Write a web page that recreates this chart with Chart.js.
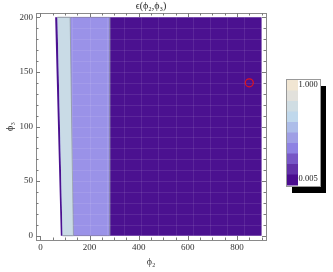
<!DOCTYPE html>
<html>
<head>
<meta charset="utf-8">
<script src="https://cdn.jsdelivr.net/npm/chart.js@4/dist/chart.umd.min.js"></script>
<style>
  html, body { margin: 0; padding: 0; background: #ffffff; }
  #wrap { width: 333px; height: 272px; position: relative; }
</style>
</head>
<body>
<div id="wrap"><canvas id="c" width="333" height="272"></canvas></div>
<script>
// ---- data ----
const chartTitle = 'ϵ(ϕ₂,ϕ₃)';
const xLabel = 'ϕ₂';
const yLabel = 'ϕ₃';

// contour regions (phi2, phi3 vertices)
const darkRegionX = [60, 900, 900, 83];
const darkRegionY = [200, 200, 0, 0];
const lavenderRegionX = [69, 282, 282, 90];
const lavenderRegionY = [200, 200, 0, 0];
const lightBlueRegionX = [69, 121, 134, 90];
const lightBlueRegionY = [200, 200, 0, 0];

// highlighted point
const markerX = [850];
const markerY = [140];

// axes
const xTicks = [0, 200, 400, 600, 800];
const yTicks = [0, 50, 100, 150, 200];
const xMinorTicks = [50, 100, 150, 250, 300, 350, 450, 500, 550, 650, 700, 750, 850, 900];
const yMinorTicks = [10, 20, 30, 40, 60, 70, 80, 90, 110, 120, 130, 140, 160, 170, 180, 190];

// mesh lines inside the contour region
const meshX = [130, 200, 270, 340, 410, 480, 550, 620, 690, 760, 830];
const meshY = [10, 20, 30, 40, 50, 60, 70, 80, 90, 100, 110, 120, 130, 140, 150, 160, 170, 180, 190];

// colour bar (top to bottom)
const colorbarColors = ['#f1e6d3', '#e2e1dc', '#d0dde3', '#c0d8ec', '#adbde9',
                        '#9f9fe5', '#8e82e3', '#7757c6', '#6131a8', '#4a0c8f'];
const colorbarLabels = ['1.000', '0.005'];

const pts = (xs, ys) => xs.map((x, i) => ({ x: x, y: ys[i] }));
const SERIF = '"Liberation Serif", "DejaVu Serif", serif';

const polyDataset = (xs, ys, color, border, order) => ({
  data: pts(xs, ys),
  showLine: true,
  fill: 'shape',
  backgroundColor: color,
  borderColor: border,
  borderWidth: border === 'transparent' ? 0 : 0.8,
  pointRadius: 0,
  tension: 0,
  order: order
});

const decorPlugin = {
  id: 'decor',
  afterDraw(chart) {
    const ctx = chart.ctx;
    const xs = chart.scales.x, ys = chart.scales.y;
    const a = chart.chartArea;
    ctx.save();
    // frame
    ctx.strokeStyle = '#8a8a8a';
    ctx.lineWidth = 1;
    ctx.strokeRect(Math.round(a.left) + 0.5, Math.round(a.top) + 0.5,
                   Math.round(a.right - a.left), Math.round(a.bottom - a.top));
    // ticks
    const tick = (x1, y1, x2, y2) => { ctx.beginPath(); ctx.moveTo(x1, y1); ctx.lineTo(x2, y2); ctx.stroke(); };
    ctx.strokeStyle = '#7a7a7a';
    xTicks.forEach(v => { const p = Math.round(xs.getPixelForValue(v)) + 0.5;
      tick(p, a.bottom, p, a.bottom - 4); tick(p, a.top, p, a.top + 4); });
    xMinorTicks.forEach(v => { const p = Math.round(xs.getPixelForValue(v)) + 0.5;
      tick(p, a.bottom, p, a.bottom - 2.5); tick(p, a.top, p, a.top + 2.5); });
    yTicks.forEach(v => { const p = Math.round(ys.getPixelForValue(v)) + 0.5;
      tick(a.left, p, a.left + 4, p); tick(a.right, p, a.right - 4, p); });
    yMinorTicks.forEach(v => { const p = Math.round(ys.getPixelForValue(v)) + 0.5;
      tick(a.left, p, a.left + 2.5, p); tick(a.right, p, a.right - 2.5, p); });

    // title
    ctx.fillStyle = '#222';
    ctx.font = '10px ' + SERIF;
    ctx.textAlign = 'center';
    ctx.textBaseline = 'middle';
    ctx.fillText(chartTitle, (a.left + a.right) / 2, 6);

    // colour bar
    const bx = 286, by = 79, bw = 34, bh = 107;
    ctx.fillStyle = '#000';
    ctx.fillRect(bx + 6, by + 7, bw, bh);
    ctx.fillStyle = '#fff';
    ctx.fillRect(bx, by, bw, bh);
    const sw = 11, band = (bh - 2) / colorbarColors.length;
    colorbarColors.forEach((c, i) => {
      ctx.fillStyle = c;
      ctx.fillRect(bx + 1, by + 1 + i * band, sw, band + 0.5);
    });
    ctx.strokeStyle = '#999';
    ctx.lineWidth = 1;
    ctx.strokeRect(bx + 0.5, by + 0.5, bw, bh);
    ctx.fillStyle = '#222';
    ctx.font = '8.5px ' + SERIF;
    ctx.textAlign = 'left';
    ctx.fillText(colorbarLabels[0], bx + sw + 1.5, by + 6);
    ctx.fillText(colorbarLabels[1], bx + sw + 1.5, by + bh - 7);
    ctx.restore();
  },
  beforeDatasetDraw(chart, args) {
    if (args.index !== 3) return;
    // mesh lines drawn just before the marker dataset
    const ctx = chart.ctx;
    const xs = chart.scales.x, ys = chart.scales.y;
    ctx.save();
    ctx.strokeStyle = 'rgba(255,255,255,0.09)';
    ctx.lineWidth = 1;
    const x0 = xs.getPixelForValue(130), x1 = xs.getPixelForValue(900);
    const y0 = ys.getPixelForValue(200), y1 = ys.getPixelForValue(0);
    meshY.forEach(v => { const p = Math.round(ys.getPixelForValue(v)) + 0.5;
      ctx.beginPath(); ctx.moveTo(x0, p); ctx.lineTo(x1, p); ctx.stroke(); });
    meshX.forEach(v => { const p = Math.round(xs.getPixelForValue(v)) + 0.5;
      ctx.beginPath(); ctx.moveTo(p, y0); ctx.lineTo(p, y1); ctx.stroke(); });
    ctx.restore();
  }
};

new Chart(document.getElementById('c'), {
  type: 'scatter',
  data: {
    datasets: [
      polyDataset(darkRegionX, darkRegionY, '#4b1190', 'transparent', 5),
      polyDataset(lavenderRegionX, lavenderRegionY, '#9a92e8', '#8a86b0', 4),
      polyDataset(lightBlueRegionX, lightBlueRegionY, '#c9dbe6', '#8f98a0', 3),
      {
        data: pts(markerX, markerY),
        showLine: false,
        pointRadius: 4,
        pointStyle: 'circle',
        backgroundColor: 'transparent',
        borderColor: '#e0141e',
        borderWidth: 1.2,
        order: 0
      }
    ]
  },
  options: {
    responsive: false,
    animation: false,
    devicePixelRatio: 1,
    layout: { padding: { left: 0, right: 67, top: 13, bottom: 0 } },
    plugins: { legend: { display: false }, tooltip: { enabled: false }, title: { display: false } },
    scales: {
      x: {
        type: 'linear', min: -18, max: 918,
        afterBuildTicks: s => { s.ticks = xTicks.map(v => ({ value: v })); },
        afterFit: s => { s.height = 32; },
        grid: { display: false, drawTicks: false },
        border: { display: false },
        ticks: { font: { family: SERIF, size: 9 }, color: '#333', padding: 2, maxRotation: 0 },
        title: { display: true, text: xLabel, font: { family: SERIF, size: 10 }, color: '#333', padding: { top: 2, bottom: 4 } }
      },
      y: {
        type: 'linear', min: -4, max: 204,
        afterBuildTicks: s => { s.ticks = yTicks.map(v => ({ value: v })); },
        afterFit: s => { s.width = 36; },
        grid: { display: false, drawTicks: false },
        border: { display: false },
        ticks: { font: { family: SERIF, size: 9 }, color: '#333', padding: 3 },
        title: { display: true, text: yLabel, font: { family: SERIF, size: 10 }, color: '#333', padding: { top: 4, bottom: 0 } }
      }
    }
  },
  plugins: [decorPlugin]
});
</script>
</body>
</html>
